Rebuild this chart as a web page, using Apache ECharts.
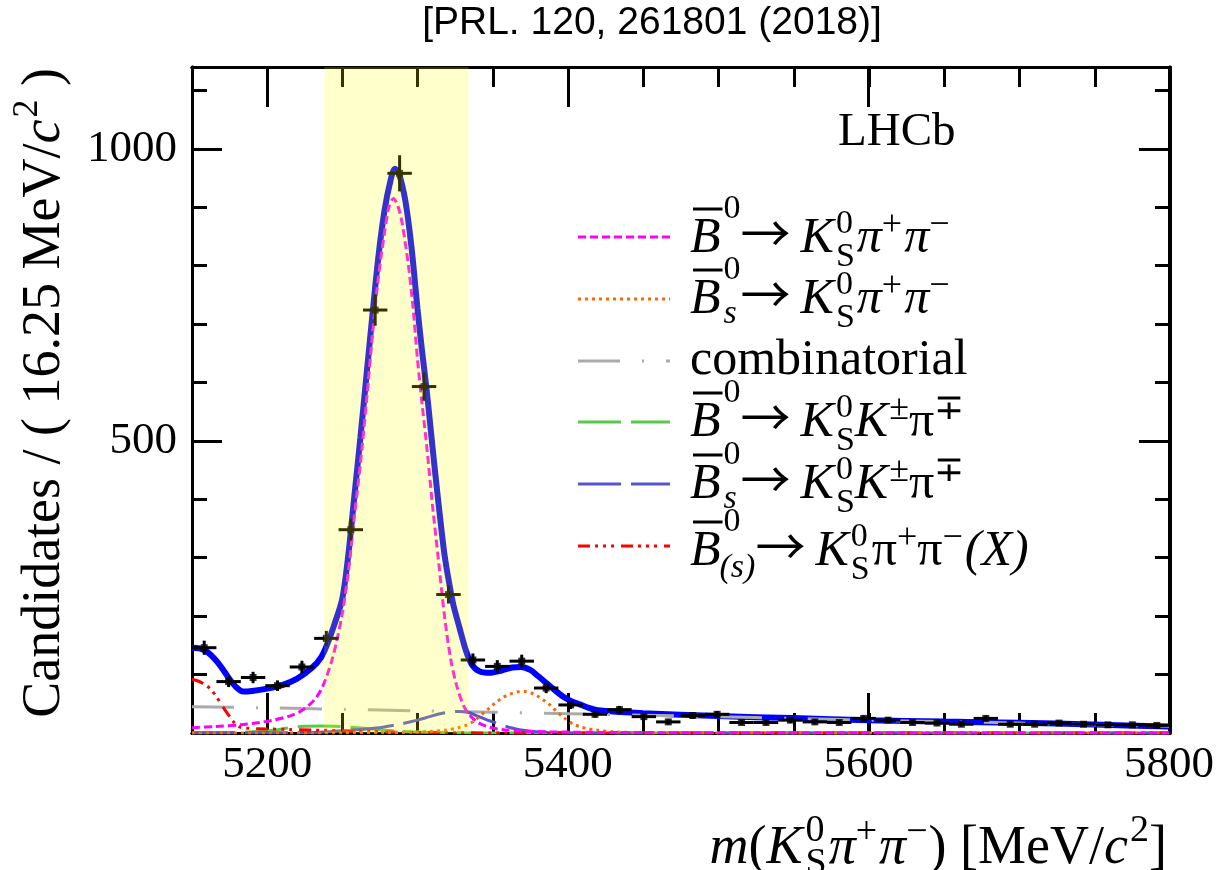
<!DOCTYPE html>
<html>
<head>
<meta charset="utf-8">
<script src="https://cdn.jsdelivr.net/npm/echarts@6/dist/echarts.min.js"></script>
<style>
html,body{margin:0;padding:0;background:#ffffff;}
#chart{width:1217px;height:870px;}
</style>
</head>
<body>
<div id="chart"></div>
<script>
// ================= DATA =================
const binCenters = [5158.125, 5174.375, 5190.625, 5206.875, 5223.125, 5239.375, 5255.625, 5271.875, 5288.125, 5304.375,
  5320.625, 5336.875, 5353.125, 5369.375, 5385.625, 5401.875, 5418.125, 5434.375, 5450.625, 5466.875,
  5483.125, 5499.375, 5515.625, 5531.875, 5548.125, 5564.375, 5580.625, 5596.875, 5613.125, 5629.375,
  5645.625, 5661.875, 5678.125, 5694.375, 5710.625, 5726.875, 5743.125, 5759.375, 5775.625, 5791.875];
const binHalfWidth = 8.125;
const counts = [146, 88, 95, 81, 113, 162, 348, 724, 958, 593,
  237, 125, 114, 123, 77, 48, 32, 40, 28, 19,
  30, 32, 18, 18, 22, 19, 18, 25, 22, 18,
  17, 15, 25, 15, 15, 17, 15, 14, 14, 13];

const fitTotal = [[5150,146],[5155,145],[5160,139],[5165,127],[5170,111],[5175,92],[5180,77],[5184,71],[5190,72],[5200,76],
  [5210,82],[5220,93],[5230,112],[5236,130],[5240,152],[5245,188],[5250,230],[5254,305],[5258,405],[5262,505],
  [5266,610],[5270,715],[5274,815],[5278,893],[5282,945],[5285,966],[5288,955],[5292,910],[5296,832],[5300,727],
  [5303,655],[5306,590],[5309,515],[5312,440],[5315,370],[5318,305],[5321,258],[5324,218],[5328,180],[5332,143],
  [5336,118],[5341,106],[5348,103],[5356,107],[5363,112],[5369,113],[5375,108],[5380,98],[5386,85],[5392,72],
  [5397,62],[5402,55],[5408,49],[5414,43],[5420,39],[5435,36],[5450,34],[5500,29],[5550,25.5],[5600,22],
  [5650,19.5],[5700,17.5],[5750,14.5],[5800,11]];
const fitB0Signal = [[5150,9],[5165,11],[5182,14],[5195,18],[5204,22],[5215,29],[5222,37],[5228,48],[5233,62],[5237,80],
  [5240,100],[5243,124],[5246,154],[5250,205],[5254,275],[5258,370],[5262,460],[5266,565],[5270,680],[5274,780],
  [5278,855],[5281,900],[5284,915],[5287,902],[5290,870],[5294,800],[5297,730],[5300,640],[5303,565],[5306,495],
  [5310,390],[5314,295],[5318,200],[5322,128],[5326,82],[5331,45],[5336,27],[5341,17],[5348,10],[5356,6],
  [5370,3],[5400,1.5],[5450,0.7],[5550,0.3],[5800,0.1]];
const fitBsSignal = [[5150,0],[5250,0.2],[5280,0.5],[5300,1.5],[5310,3],[5319,5],[5327,9],[5333,14],[5338,21],[5342,30],
  [5347,41],[5352,52],[5357,61],[5362,67],[5367,70.5],[5371,71],[5376,68],[5380,63],[5384,56],[5388,48],
  [5393,36],[5398,25],[5403,16],[5408,11],[5414,7],[5419,5],[5430,2],[5450,0.7],[5500,0.2],[5800,0]];
const fitCombinatorial = [[5150,45],[5200,43],[5250,40.5],[5300,38],[5350,35.5],[5400,33],[5450,30.5],[5500,28],
  [5550,25],[5600,22],[5650,19.5],[5700,17],[5750,14],[5800,11.5]];
const fitB0KKpi = [[5150,0.5],[5180,1],[5195,2.5],[5205,5],[5215,9],[5225,11.5],[5235,12],[5245,11.5],[5255,10],[5265,8],
  [5275,5.5],[5285,3.5],[5295,2],[5310,1],[5330,0.4],[5360,0.1],[5800,0]];
const fitBsKKpi = [[5150,0.3],[5200,0.5],[5230,1],[5245,3],[5255,5],[5266,7],[5277,10],[5288,15],[5300,22],[5308,28],
  [5315,33],[5322,36],[5328,37],[5334,35],[5340,29],[5348,21],[5355,15],[5362,9],[5368,5.5],[5375,3],
  [5385,1.5],[5400,0.5],[5430,0.1],[5800,0]];
const fitPartReco = [[5150,92],[5154,89],[5158,84],[5162,76],[5166,63],[5170,47],[5174,32],[5178,18],[5182,10],[5188,8],
  [5200,7],[5215,6],[5230,5],[5250,4],[5270,2.5],[5290,1.2],[5320,0.4],[5360,0.1],[5800,0]];

const signalWindow = [5238, 5334];

const xRange = [5150, 5800];
const yRange = [0, 1140];
const xMajorTicks = [5200, 5400, 5600, 5800];
const xMinorTicks = [5150, 5200, 5250, 5300, 5350, 5400, 5450, 5500, 5550, 5600, 5650, 5700, 5750, 5800];
const yMajorTicks = [0, 500, 1000];
const yMajorLabels = [500, 1000];
const yMinorTicks = [0, 100, 200, 300, 400, 500, 600, 700, 800, 900, 1000, 1100];

// ================= TEXT LAYOUT HELPERS =================
const SERIF = 'Liberation Serif';
const SANS = 'Liberation Sans';
const ARROWFAM = 'Noto Sans CJK SC';
const mctx = document.createElement('canvas').getContext('2d');
function fontCss(size, italic, fam) {
  return (italic ? 'italic' : 'normal') + ' normal ' + size + 'px ' + fam;
}
function measureW(t, f) { mctx.font = f; mctx.textBaseline = 'alphabetic'; return mctx.measureText(t).width; }
function midToBase(f, size) {
  mctx.font = f; mctx.textBaseline = 'middle';
  const m = mctx.measureText('H');
  mctx.textBaseline = 'alphabetic';
  const a = m.alphabeticBaseline;
  if (typeof a === 'number' && !isNaN(a) && a !== 0) return Math.abs(a);
  return size * 0.3375;
}
// tokens: {t, s, i, dy, dx, stack, over, fam}
function layoutText(tokens, opt) {
  const items = [];
  let x = 0, prevStart = 0;
  tokens.forEach(tk => {
    const fam = tk.fam || opt.fam || SERIF;
    const s = tk.s || opt.size;
    const f = fontCss(s, tk.i, fam);
    const w = measureW(tk.t, f);
    let sx;
    if (tk.stack) { sx = prevStart + (tk.dx || 0); x = Math.max(x, sx + w); }
    else { sx = x + (tk.dx || 0); x = sx + w + (tk.after || 0); }
    items.push({ tk, s, f, w, sx, fam });
    prevStart = sx;
  });
  const W = x;
  const off = opt.align === 'right' ? -W : (opt.align === 'center' ? -W / 2 : 0);
  const els = [];
  items.forEach(it => {
    const bx = opt.x + off + it.sx;
    const by = opt.baseline - (it.tk.dy || 0);
    els.push({
      type: 'text', silent: true, z: 50,
      style: { text: it.tk.t, x: bx, y: by - midToBase(it.f, it.s), fontSize: it.s, fontFamily: it.fam,
        fontStyle: it.tk.i ? 'italic' : 'normal', fill: '#000', align: 'left', verticalAlign: 'middle' }
    });
    if (it.tk.over) {
      const yb = by - 0.86 * it.s;
      els.push({ type: 'line', silent: true, z: 50,
        shape: { x1: bx + 0.06 * it.s, y1: yb, x2: bx + it.w + 0.04 * it.s, y2: yb },
        style: { stroke: '#000', lineWidth: 3 } });
    }
  });
  return { els, W };
}

// ================= LEGEND / LABEL TOKENS =================
const M = 50, S = 34, SP = 36;
const tokB0 = [{t:'B', s:M, i:1, over:1}, {t:'0', s:S, dy:34, dx:3}];
const tokBs = [{t:'B', s:M, i:1, over:1}, {t:'0', s:S, dy:34, dx:3}, {t:'s', s:S, i:1, dy:-10, stack:1, dx:0}];
const tokB0s = [{t:'B', s:M, i:1, over:1}, {t:'0', s:S, dy:34, dx:3}, {t:'(s)', s:S, i:1, dy:-12, stack:1, dx:-4}];
const tokArrowKS = [{t:'\u2192', s:M, fam:ARROWFAM, dx:0, dy:0}, {t:'K', s:M, i:1, dx:10}, {t:'0', s:S, dy:19, dx:2}, {t:'S', s:S, dy:-14, stack:1}];
const tokPiPiIt = [{t:'\u03C0', s:M, i:1, dx:2}, {t:'+', s:SP, dy:17, dx:0}, {t:'\u03C0', s:M, i:1, dx:2}, {t:'\u2212', s:SP, dy:17, dx:0}];
const tokKPi = [{t:'K', s:M, i:1, dx:0}, {t:'\u00B1', s:SP, dy:17, dx:1}, {t:'\u03C0', s:M, dx:0}, {t:'\u2213', s:SP, dy:17, dx:0}];
const tokPiPiUp = [{t:'\u03C0', s:M, dx:2}, {t:'+', s:SP, dy:17, dx:0}, {t:'\u03C0', s:M, dx:0}, {t:'\u2212', s:SP, dy:17, dx:0}, {t:'(X)', s:M, i:1, dx:2}];

const legendEntries = [
  { tokens: tokB0.concat(tokArrowKS, tokPiPiIt), color: '#ff00ff', dash: [8, 4], lineY: 237, base: 252 },
  { tokens: tokBs.concat(tokArrowKS, tokPiPiIt), color: '#ff6600', dash: [3, 4], lineY: 299, base: 313 },
  { tokens: [{t:'combinatorial', s:M}], color: '#aaaaaa', dash: [42, 22, 2, 22], lineY: 361, base: 374 },
  { tokens: tokB0.concat(tokArrowKS, tokKPi), color: '#55cc44', dash: [43, 10], lineY: 422, base: 436 },
  { tokens: tokBs.concat(tokArrowKS, tokKPi), color: '#5555cc', dash: [43, 10], lineY: 484, base: 498 },
  { tokens: tokB0s.concat(tokArrowKS, tokPiPiUp), color: '#ff0000', dash: [12, 5, 3, 5, 3, 5, 3, 7], lineY: 546, base: 565 }
];

const graphics = [];
legendEntries.forEach(e => {
  graphics.push({ type: 'line', silent: true, z: 50, shape: { x1: 578, y1: e.lineY, x2: 670, y2: e.lineY },
    style: { stroke: e.color, lineWidth: 3, lineDash: e.dash } });
  const r = layoutText(e.tokens, { x: 690, baseline: e.base, size: M, align: 'left' });
  r.els.forEach(el => graphics.push(el));
});

// Title
layoutText([{t:'[PRL. 120, 261801 (2018)]', s:39}], { x: 652, baseline: 34, size: 39, align: 'center', fam: SANS })
  .els.forEach(el => graphics.push(el));
// LHCb
layoutText([{t:'LHCb', s:47}], { x: 838, baseline: 145, size: 47, align: 'left' }).els.forEach(el => graphics.push(el));
// X axis title
const XT = 54, XS = 38;
layoutText([
  {t:'m', s:XT, i:1}, {t:'(', s:XT}, {t:'K', s:XT, i:1}, {t:'0', s:XS, dy:22, dx:3}, {t:'S', s:XS, dy:-11, stack:1},
  {t:'\u03C0', s:XT, i:1, dx:2}, {t:'+', s:XS, dy:20, dx:0}, {t:'\u03C0', s:XT, i:1, dx:2}, {t:'\u2212', s:XS, dy:20, dx:0},
  {t:')', s:XT, dx:1}, {t:' [MeV/', s:XT}, {t:'c', s:XT, i:1}, {t:'2', s:XS, dy:22, dx:2}, {t:']', s:XT}
], { x: 1167, baseline: 863, size: XT, align: 'right' }).els.forEach(el => graphics.push(el));
// Y axis title (rotated)
const YT = 54, YS = 36;
const yTitle = layoutText([
  {t:'Candidates / ( 16.25 MeV/', s:YT}, {t:'c', s:YT, i:1}, {t:'2', s:YS, dy:22, dx:2}, {t:' )', s:YT}
], { x: 0, baseline: 0, size: YT, align: 'left' });
graphics.push({ type: 'group', x: 59, y: 68 + yTitle.W, rotation: Math.PI / 2, silent: true, children: yTitle.els });

// ================= CHART =================
const chart = echarts.init(document.getElementById('chart'), null, { renderer: 'canvas' });
const gridBox = { left: 192, right: 47, top: 67, bottom: 137 };
const axisLineStyle = { color: '#000', width: 3 };
function xAxisDef(grid, pos, ticks, len, labels) {
  return { type: 'value', gridIndex: grid, position: pos, min: xRange[0], max: xRange[1],
    axisLine: { show: true, onZero: false, lineStyle: axisLineStyle },
    axisTick: { show: true, inside: true, length: len, customValues: ticks, lineStyle: { color: '#000', width: 3 } },
    axisLabel: labels ? { show: true, customValues: labels, margin: 10, fontFamily: SERIF, fontSize: 45, color: '#000',
      formatter: v => String(v) } : { show: false },
    splitLine: { show: false }, axisPointer: { show: false } };
}
function yAxisDef(grid, pos, ticks, len, labels) {
  return { type: 'value', gridIndex: grid, position: pos, min: yRange[0], max: yRange[1],
    axisLine: { show: true, onZero: false, lineStyle: axisLineStyle },
    axisTick: { show: true, inside: true, length: len, customValues: ticks, lineStyle: { color: '#000', width: 3 } },
    axisLabel: labels ? { show: true, customValues: labels, margin: 15, fontFamily: SERIF, fontSize: 45, color: '#000',
      formatter: v => String(v) } : { show: false },
    splitLine: { show: false }, axisPointer: { show: false } };
}

function curve(name, data, color, width, type, z) {
  return { name, type: 'line', data, xAxisIndex: 0, yAxisIndex: 0, showSymbol: false, symbol: 'none',
    smooth: 0.3, lineStyle: { color, width, type }, z, silent: true, clip: true };
}

const pointData = binCenters.map((x, i) => [x, counts[i], Math.sqrt(counts[i])]);

const option = {
  animation: false,
  backgroundColor: '#ffffff',
  grid: [Object.assign({}, gridBox), Object.assign({}, gridBox)],
  xAxis: [
    xAxisDef(0, 'bottom', xMajorTicks, 40, xMajorTicks),
    xAxisDef(0, 'top', xMajorTicks, 40, null),
    xAxisDef(1, 'bottom', xMinorTicks, 20, null),
    xAxisDef(1, 'top', xMinorTicks, 20, null)
  ],
  yAxis: [
    yAxisDef(0, 'left', yMajorTicks, 30, yMajorLabels),
    yAxisDef(0, 'right', yMajorTicks, 30, null),
    yAxisDef(1, 'left', yMinorTicks, 15, null),
    yAxisDef(1, 'right', yMinorTicks, 15, null)
  ],
  series: [
    curve('total', fitTotal, '#0000ff', 6, 'solid', 2),
    curve('combinatorial', fitCombinatorial, '#aaaaaa', 3, [42, 22, 2, 22], 3),
    curve('B0 KKpi', fitB0KKpi, '#55cc44', 3, [43, 10], 3),
    curve('Bs KKpi', fitBsKKpi, '#5555cc', 3, [43, 10], 3),
    curve('part reco', fitPartReco, '#ff0000', 3, [12, 5, 3, 5, 3, 5, 3, 7], 3),
    curve('Bs signal', fitBsSignal, '#ff6600', 3, [3, 4], 3),
    curve('B0 signal', fitB0Signal, '#ff00ff', 3, [8, 4], 3),
    {
      name: 'errors', type: 'custom', xAxisIndex: 0, yAxisIndex: 0, z: 5, silent: true,
      data: pointData, encode: { x: 0, y: 1 },
      renderItem: function (params, api) {
        const x = api.value(0), y = api.value(1), e = api.value(2);
        const pTop = api.coord([x, y + e]);
        const pBot = api.coord([x, y - e]);
        const pL = api.coord([x - binHalfWidth, y]);
        const pR = api.coord([x + binHalfWidth, y]);
        return { type: 'group', children: [
          { type: 'line', shape: { x1: pTop[0], y1: pTop[1], x2: pBot[0], y2: pBot[1] }, style: { stroke: '#000', lineWidth: 3 } },
          { type: 'line', shape: { x1: pL[0], y1: pL[1], x2: pR[0], y2: pR[1] }, style: { stroke: '#000', lineWidth: 3 } }
        ] };
      }
    },
    {
      name: 'data', type: 'scatter', xAxisIndex: 0, yAxisIndex: 0, z: 6, silent: true,
      symbol: 'rect', symbolSize: 7, itemStyle: { color: '#000' },
      data: binCenters.map((x, i) => [x, counts[i]])
    },
    {
      name: 'window', type: 'custom', xAxisIndex: 0, yAxisIndex: 0, z: 20, silent: true,
      data: [[signalWindow[0], signalWindow[1]]], encode: { x: [0, 1] },
      renderItem: function (params, api) {
        const p1 = api.coord([api.value(0), yRange[1]]);
        const p2 = api.coord([api.value(1), yRange[0]]);
        return { type: 'rect', shape: { x: p1[0], y: p1[1], width: p2[0] - p1[0], height: p2[1] - p1[1] },
          style: { fill: 'rgba(255,255,0,0.2)' } };
      }
    }
  ],
  graphic: { elements: graphics }
};
chart.setOption(option);
</script>
</body>
</html>
